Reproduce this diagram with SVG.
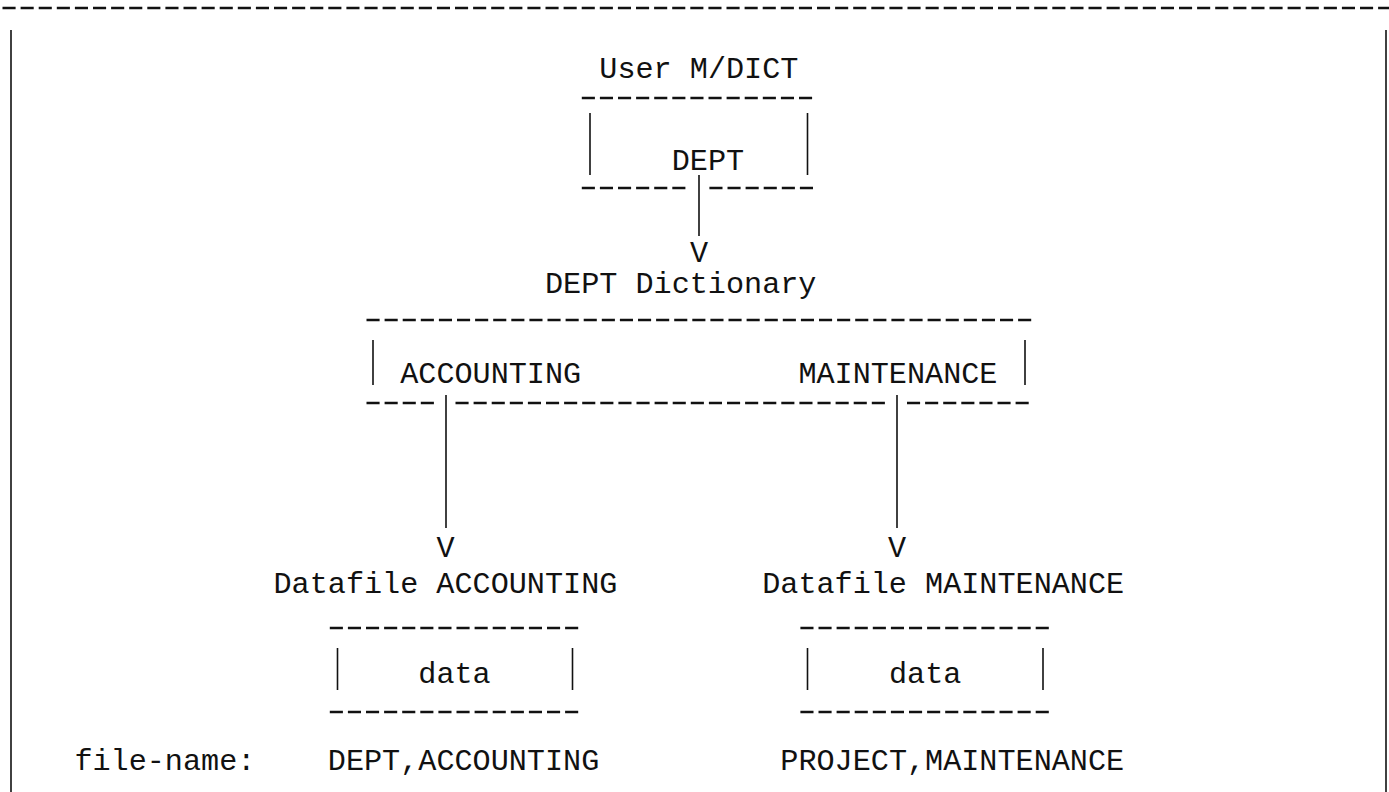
<svg xmlns="http://www.w3.org/2000/svg" width="1389" height="792" viewBox="0 0 1389 792">
<style>
text{font-family:"Liberation Mono","DejaVu Sans Mono",monospace;font-size:30.17px;fill:#111}
.d{stroke:#111;stroke-width:2.4;stroke-dasharray:13.1 5;fill:none}
.v{stroke:#111;stroke-width:1.6;fill:none}
</style>
<rect width="1389" height="792" fill="#fff"/>
<g id="frame">
<line class="d" x1="2.5" y1="8" x2="1389" y2="8"/>
<line class="v" x1="11" y1="30" x2="11" y2="792"/>
<line class="v" x1="1386" y1="30" x2="1386" y2="792"/>
</g>
<g id="user-mdict">
<text x="599.3" y="78">User M/DICT</text>
<line class="d" x1="581.8" y1="98" x2="814" y2="98"/>
<line class="v" x1="590" y1="113" x2="590" y2="175"/>
<line class="v" x1="807.5" y1="113" x2="807.5" y2="175"/>
<text x="671.7" y="170">DEPT</text>
<line class="d" x1="581.8" y1="188" x2="689" y2="188"/>
<line class="d" x1="709.4" y1="188" x2="814" y2="188"/>
</g>
<g id="dept-dictionary">
<text x="545" y="293">DEPT Dictionary</text>
<line class="d" x1="366.5" y1="320" x2="1032" y2="320"/>
<line class="v" x1="373" y1="340" x2="373" y2="385"/>
<line class="v" x1="1025" y1="340" x2="1025" y2="385"/>
<text x="400.2" y="383">ACCOUNTING</text>
<text x="798.4" y="383">MAINTENANCE</text>
<line class="d" x1="366.5" y1="403" x2="436" y2="403"/>
<line class="d" x1="455.5" y1="403" x2="887" y2="403"/>
<line class="d" x1="907" y1="403" x2="1032" y2="403"/>
</g>
<g id="datafile-accounting">
<text x="273.5" y="593">Datafile ACCOUNTING</text>
<line class="d" x1="329.8" y1="628" x2="580" y2="628"/>
<line class="v" x1="337.5" y1="648" x2="337.5" y2="690"/>
<line class="v" x1="572.5" y1="648" x2="572.5" y2="690"/>
<text x="418.3" y="683">data</text>
<line class="d" x1="329.8" y1="712" x2="580" y2="712"/>
</g>
<g id="datafile-maintenance">
<text x="762.2" y="593">Datafile MAINTENANCE</text>
<line class="d" x1="800.4" y1="628" x2="1050" y2="628"/>
<line class="v" x1="807.5" y1="648" x2="807.5" y2="690"/>
<line class="v" x1="1043" y1="648" x2="1043" y2="690"/>
<text x="889" y="683">data</text>
<line class="d" x1="800.4" y1="712" x2="1050" y2="712"/>
</g>
<g id="file-names">
<text x="74.4" y="770">file-name:</text>
<text x="327.8" y="770">DEPT,ACCOUNTING</text>
<text x="780.3" y="770">PROJECT,MAINTENANCE</text>
</g>
<g id="connectors">
<line class="v" x1="699" y1="175" x2="699" y2="236"/>
<text x="689.9" y="262">V</text>
<line class="v" x1="446" y1="395" x2="446" y2="528"/>
<text x="436.4" y="557">V</text>
<line class="v" x1="897" y1="395" x2="897" y2="528"/>
<text x="887.9" y="557">V</text>
</g>
</svg>
